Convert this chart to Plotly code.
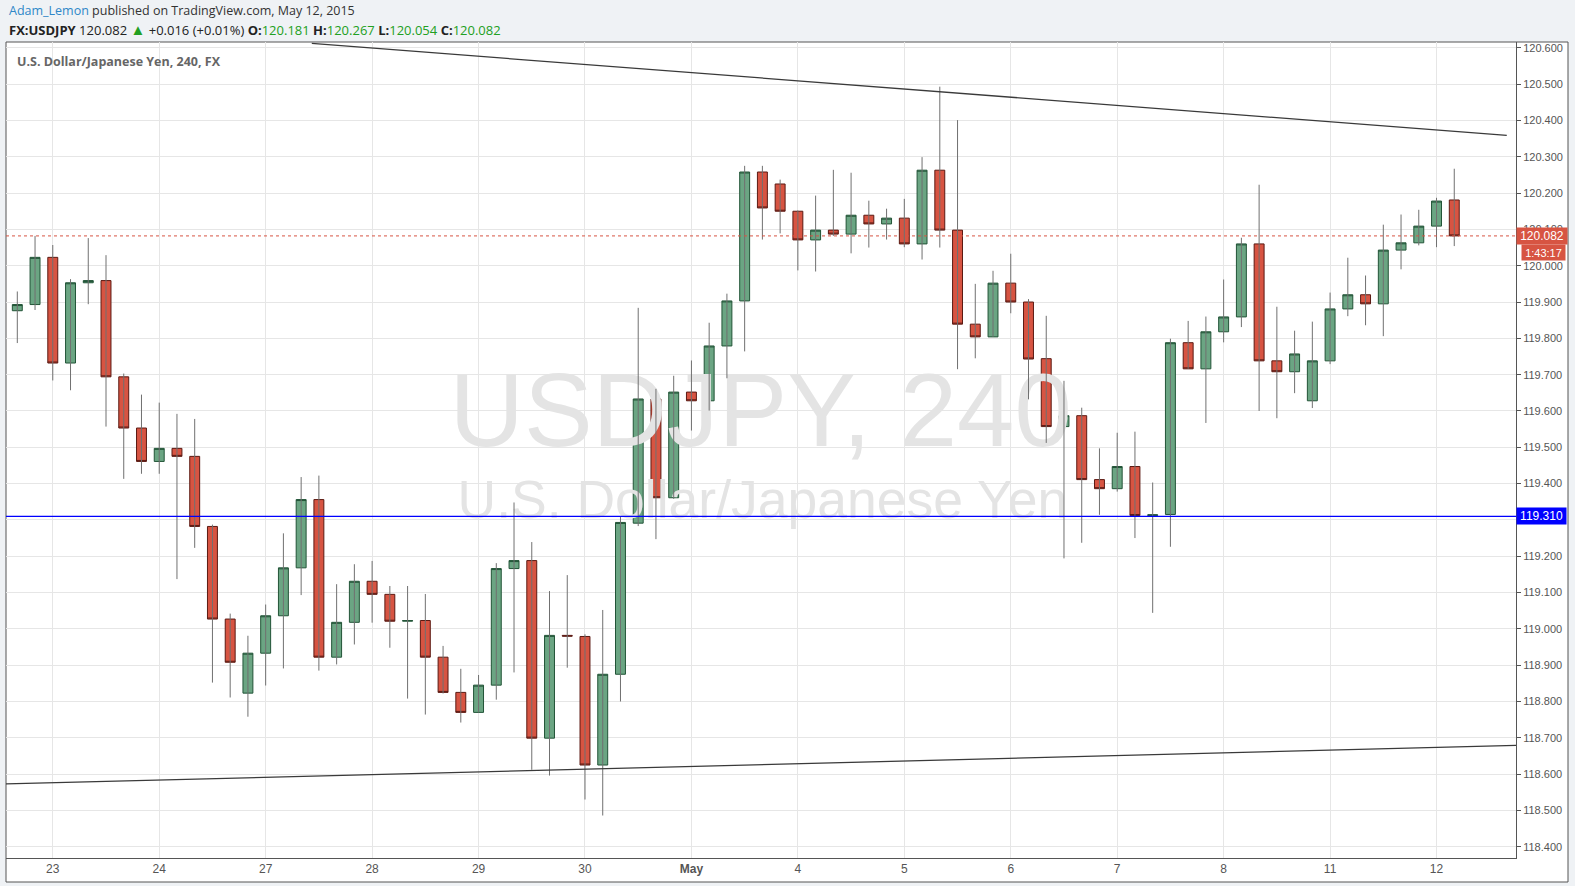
import plotly.graph_objects as go

# ---------------- data (USDJPY, 240-minute candles) ----------------
opens = [119.876, 119.893, 120.023, 119.732, 119.953, 119.959, 119.694, 119.553, 119.461, 119.497,
         119.475, 119.282, 119.027, 118.823, 118.933, 119.036, 119.168, 119.356, 118.922, 119.018,
         119.131, 119.095, 119.021, 119.023, 118.922, 118.825, 118.770, 118.845, 119.166, 119.188,
         118.699, 118.982, 118.979, 118.625, 118.875, 119.291, 119.633, 119.361, 119.652, 119.628,
         119.779, 119.903, 120.258, 120.225, 120.150, 120.071, 120.098, 120.087, 120.139, 120.115,
         120.131, 120.060, 120.263, 120.098, 119.839, 119.804, 119.952, 119.900, 119.744, 119.557,
         119.587, 119.411, 119.386, 119.447, 119.312, 119.315, 119.788, 119.716, 119.818, 119.859,
         120.060, 119.738, 119.708, 119.628, 119.738, 119.881, 119.920, 119.895, 120.043, 120.063,
         120.109, 120.181]
highs = [119.929, 120.082, 120.057, 119.963, 120.076, 120.029, 119.703, 119.645, 119.623, 119.592,
         119.578, 119.287, 119.042, 118.981, 119.067, 119.263, 119.418, 119.422, 119.123, 119.178,
         119.187, 119.118, 119.118, 119.096, 118.953, 118.890, 118.873, 119.181, 119.348, 119.239,
         119.104, 119.148, 118.985, 119.052, 119.309, 119.884, 119.661, 119.697, 119.739, 119.843,
         119.923, 120.275, 120.275, 120.237, 120.152, 120.193, 120.264, 120.256, 120.179, 120.157,
         120.184, 120.299, 120.493, 120.401, 119.950, 119.986, 120.033, 119.908, 119.862, 119.683,
         119.609, 119.497, 119.540, 119.543, 119.403, 119.799, 119.848, 119.860, 119.962, 120.077,
         120.223, 119.887, 119.821, 119.846, 119.926, 120.022, 119.973, 120.113, 120.141, 120.154,
         120.187, 120.267]
lows = [119.787, 119.878, 119.684, 119.657, 119.894, 119.557, 119.413, 119.427, 119.427, 119.137,
        119.223, 118.852, 118.811, 118.758, 118.844, 118.891, 119.093, 118.885, 118.902, 118.957,
        119.017, 118.948, 118.808, 118.764, 118.822, 118.742, 118.770, 118.805, 118.880, 118.612,
        118.596, 118.893, 118.530, 118.486, 118.800, 119.283, 119.247, 119.358, 119.546, 119.601,
        119.690, 119.764, 120.072, 120.089, 119.987, 119.984, 120.082, 120.034, 120.050, 120.072,
        120.051, 120.017, 120.050, 119.715, 119.745, 119.804, 119.869, 119.632, 119.512, 119.194,
        119.237, 119.314, 119.378, 119.250, 119.044, 119.226, 119.716, 119.567, 119.789, 119.831,
        119.600, 119.580, 119.649, 119.608, 119.729, 119.861, 119.836, 119.806, 119.990, 120.056,
        120.051, 120.054]
closes = [119.893, 120.023, 119.732, 119.953, 119.959, 119.694, 119.553, 119.461, 119.497, 119.475,
          119.282, 119.027, 118.908, 118.933, 119.036, 119.168, 119.356, 118.922, 119.018, 119.131,
          119.095, 119.021, 119.023, 118.922, 118.825, 118.770, 118.845, 119.166, 119.188, 118.699,
          118.982, 118.980, 118.625, 118.875, 119.293, 119.633, 119.361, 119.652, 119.628, 119.779,
          119.903, 120.258, 120.159, 120.150, 120.071, 120.098, 120.087, 120.139, 120.115, 120.131,
          120.060, 120.263, 120.098, 119.839, 119.804, 119.952, 119.900, 119.743, 119.557, 119.587,
          119.411, 119.386, 119.447, 119.312, 119.314, 119.788, 119.716, 119.818, 119.859, 120.060,
          119.738, 119.708, 119.757, 119.738, 119.881, 119.920, 119.895, 120.043, 120.063, 120.109,
          120.178, 120.082]

day_tick_index = [2, 8, 14, 20, 26, 32, 38, 44, 50, 56, 62, 68, 74, 80]
day_tick_labels = ["23", "24", "27", "28", "29", "30", "<b>May</b>", "4", "5", "6", "7", "8", "11", "12"]

price_ticks = [118.4, 118.5, 118.6, 118.7, 118.8, 118.9, 119.0, 119.1, 119.2, 119.3,
               119.4, 119.5, 119.6, 119.7, 119.8, 119.9, 120.0, 120.1, 120.2, 120.3,
               120.4, 120.5, 120.6]

trend_upper_x = [16.6, 83.96]
trend_upper_y = [120.612, 120.359]
trend_lower_x = [-0.64, 84.48]
trend_lower_y = [118.573, 118.679]

support_level = 119.310
last_price = 120.082
countdown = "1:43:17"

# ---------------- figure ----------------
W, H = 1575, 886
ML, MR, MT, MB = 6, 59, 42, 28
PW, PH = W - ML - MR, H - MT - MB


def px2x(px):
    return (px - ML) / PW


def py2y(py):
    return (H - MB - py) / PH


n = len(opens)
xs = list(range(n))

UP_FILL, UP_LINE = "#6ba583", "#225437"
DN_FILL, DN_LINE = "#d75442", "#5b1a13"

fig = go.Figure()

# watermark (behind candles)
fig.add_trace(go.Scatter(
    x=[41.9], y=[119.575], mode="text", text=["USDJPY, 240"],
    textfont=dict(family="Liberation Sans, Arial, sans-serif", size=103, color="#e4e4e4"),
    textposition="middle center", hoverinfo="skip", showlegend=False))
fig.add_trace(go.Scatter(
    x=[42.0], y=[119.343], mode="text", text=["U.S. Dollar/Japanese Yen"],
    textfont=dict(family="Liberation Sans, Arial, sans-serif", size=53.5, color="#e4e4e4"),
    textposition="middle center", hoverinfo="skip", showlegend=False))

# wicks
wx, wy = [], []
for i in range(n):
    wx += [xs[i], xs[i], None]
    wy += [lows[i], highs[i], None]
fig.add_trace(go.Scatter(x=wx, y=wy, mode="lines", line=dict(color="#707070", width=1),
                         hoverinfo="skip", showlegend=False))

# bodies
body_hi = [max(o, c) for o, c in zip(opens, closes)]
body_lo = [min(o, c) for o, c in zip(opens, closes)]
fig.add_trace(go.Candlestick(
    x=xs, open=opens, high=body_hi, low=body_lo, close=closes,
    increasing=dict(fillcolor=UP_FILL, line=dict(color=UP_LINE, width=1)),
    decreasing=dict(fillcolor=DN_FILL, line=dict(color=DN_LINE, width=1)),
    whiskerwidth=0, hoverinfo="skip", showlegend=False))

# trend lines
fig.add_trace(go.Scatter(x=trend_upper_x, y=trend_upper_y, mode="lines",
                         line=dict(color="#3a3a3a", width=1.3), hoverinfo="skip", showlegend=False))
fig.add_trace(go.Scatter(x=trend_lower_x, y=trend_lower_y, mode="lines",
                         line=dict(color="#3a3a3a", width=1.3), hoverinfo="skip", showlegend=False))

shapes = [
    # white chart box with frame
    dict(type="rect", xref="paper", yref="paper", x0=px2x(6), x1=px2x(1568), y0=py2y(882), y1=py2y(42),
         fillcolor="white", line=dict(color="#555555", width=1), layer="below"),
    dict(type="line", xref="paper", yref="y", x0=0, x1=1, y0=support_level, y1=support_level,
         line=dict(color="#0000ff", width=1.2)),
    dict(type="line", xref="paper", yref="y", x0=0, x1=1, y0=last_price, y1=last_price,
         line=dict(color="#d75442", width=1, dash="dot")),
]

AX_FONT = "Liberation Sans, Arial, sans-serif"
HDR_FONT = "Open Sans, Noto Sans, sans-serif"

annotations = [
    dict(xref="paper", yref="paper", x=px2x(7), y=py2y(11), xanchor="left", yanchor="middle",
         showarrow=False, align="left",
         text="<span style='color:#2e87c8'>Adam_Lemon</span> published on TradingView.com, May 12, 2015",
         font=dict(family=HDR_FONT, size=12.5, color="#333333")),
    dict(xref="paper", yref="paper", x=px2x(7), y=py2y(29), xanchor="left", yanchor="middle",
         showarrow=False, align="left",
         text=("<b>FX:USDJPY</b> 120.082 <span style='color:#22a022;font-size:15px'>▲</span> +0.016 (+0.01%) "
               "<b>O:</b><span style='color:#22a022'>120.181</span> "
               "<b>H:</b><span style='color:#22a022'>120.267</span> "
               "<b>L:</b><span style='color:#22a022'>120.054</span> "
               "<b>C:</b><span style='color:#22a022'>120.082</span>"),
         font=dict(family=HDR_FONT, size=13, color="#222222")),
    dict(xref="paper", yref="paper", x=px2x(15), y=py2y(61), xanchor="left", yanchor="middle",
         showarrow=False, align="left", text="<b>U.S. Dollar/Japanese Yen, 240, FX</b>",
         font=dict(family=HDR_FONT, size=12.5, color="#666666")),
    # price labels on axis
    dict(xref="paper", yref="y", x=1.0, y=last_price, xanchor="left", yanchor="middle",
         showarrow=False, text=f"{last_price:.3f}", bgcolor="#d75442", width=46, height=12, borderpad=2,
         font=dict(family=AX_FONT, size=12, color="white")),
    dict(xref="paper", yref="y", x=px2x(1566), y=last_price, yshift=-17, xanchor="right", yanchor="middle",
         showarrow=False, text=countdown, bgcolor="#d75442", width=39, height=11, borderpad=2,
         font=dict(family=AX_FONT, size=11, color="white")),
    dict(xref="paper", yref="y", x=1.0, y=support_level, xanchor="left", yanchor="middle",
         showarrow=False, text=f"{support_level:.3f}", bgcolor="#0000ff", width=45, height=12, borderpad=2,
         font=dict(family=AX_FONT, size=12, color="white")),
]

# the 119.300 label is hidden behind the 119.310 marker in the reference
tick_text = ["" if abs(v - 119.3) < 1e-9 else f"{v:.3f}" for v in price_ticks]

fig.update_layout(
    width=W, height=H,
    margin=dict(l=ML, r=MR, t=MT, b=MB, pad=0),
    paper_bgcolor="#eff2f5", plot_bgcolor="white",
    showlegend=False, boxgap=0.44, boxgroupgap=0,
    shapes=shapes, annotations=annotations,
    xaxis=dict(range=[-0.637, 84.48], tickmode="array", tickvals=day_tick_index, ticktext=day_tick_labels,
               showgrid=True, gridcolor="#e6e6e6", gridwidth=1, zeroline=False,
               showline=True, linecolor="#555555", linewidth=1, ticks="",
               tickfont=dict(family=AX_FONT, size=12, color="#555555"),
               rangeslider=dict(visible=False), fixedrange=True),
    yaxis=dict(range=[118.369, 120.616], side="right", tickmode="array", tickvals=price_ticks,
               ticktext=tick_text,
               showgrid=True, gridcolor="#e6e6e6", gridwidth=1, zeroline=False,
               showline=True, linecolor="#555555", linewidth=1,
               ticks="outside", ticklen=4, tickcolor="#555555",
               tickfont=dict(family=AX_FONT, size=11, color="#555555"), fixedrange=True),
)

fig.write_html("out.html", config={"displayModeBar": False},
               post_script="document.body.style.margin='0';document.body.style.overflow='hidden';")
